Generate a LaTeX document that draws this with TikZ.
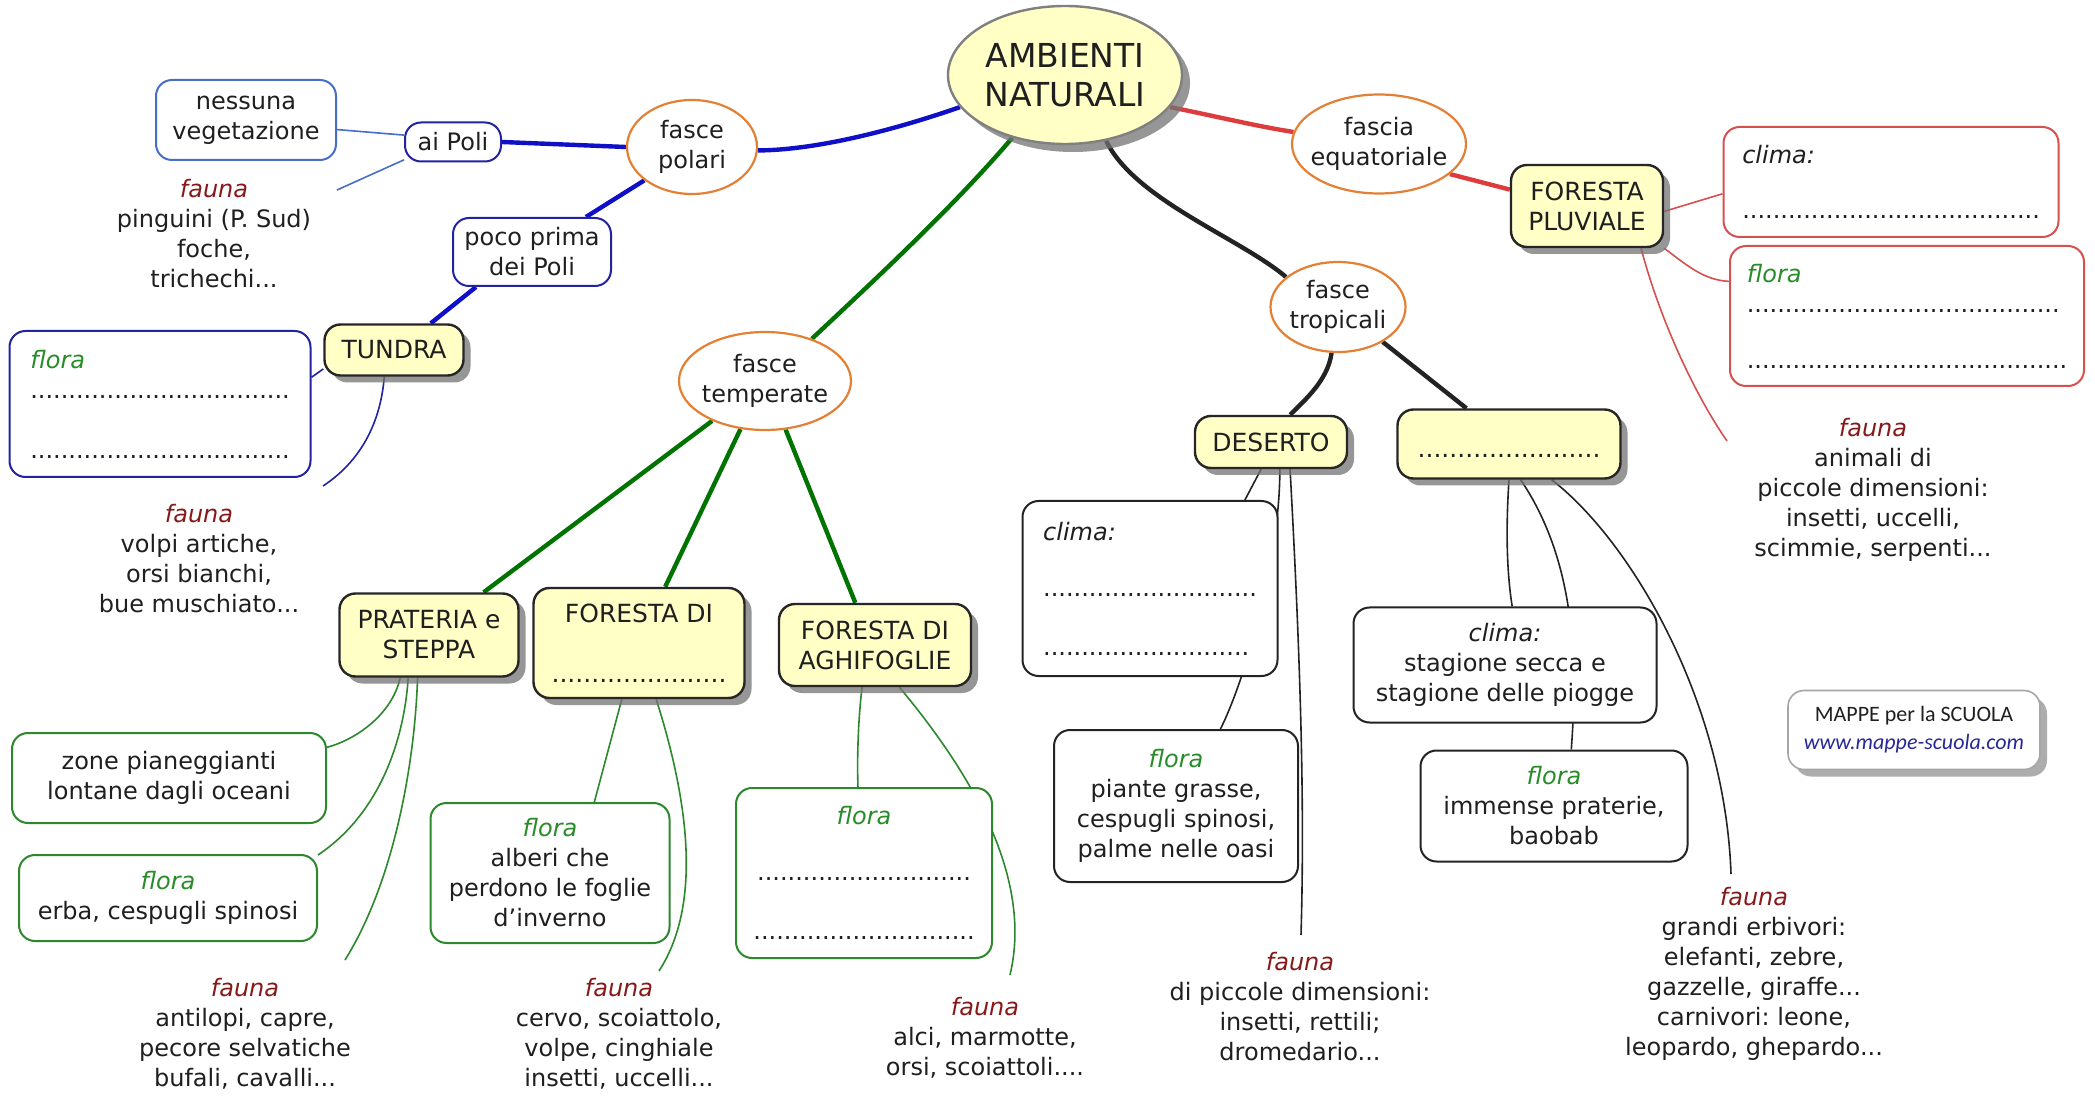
\documentclass[tikz,border=0pt]{standalone}
\usepackage{fontspec}
\setmainfont{DejaVu Sans}[Ligatures=ResetAll]
\newfontfamily\logofont{Carlito}
\usetikzlibrary{shapes.geometric,shadows,backgrounds}
\definecolor{yfill}{RGB}{255,255,198}
\definecolor{orng}{RGB}{228,128,52}
\definecolor{pblue}{RGB}{15,15,200}
\definecolor{bblue}{RGB}{35,35,160}
\definecolor{lblue}{RGB}{70,110,200}
\definecolor{tgreen}{RGB}{0,115,0}
\definecolor{lgreen}{RGB}{45,135,45}
\definecolor{fgreen}{RGB}{40,140,40}
\definecolor{tred}{RGB}{222,60,60}
\definecolor{lred}{RGB}{215,80,80}
\definecolor{fred}{RGB}{135,25,25}
\definecolor{dk}{RGB}{35,35,35}
\definecolor{urlblue}{RGB}{40,40,150}
\newcommand{\mfauna}{{\itshape\color{fred}fauna}}
\newcommand{\mflora}{{\itshape\color{fgreen}flora}}
\newcommand{\mclima}{{\itshape clima:}}
\ExplSyntaxOn
\cs_new:Npn \ptrow #1 {\prg_replicate:nn{#1}{.}}
\ExplSyntaxOff
\frenchspacing
\begin{document}
\begin{tikzpicture}[x=0.5pt,y=-0.5pt,
  font=\fontsize{12}{15}\selectfont,
  every node/.append style={text=black!88},
  ell/.style={ellipse, draw=orng, line width=1.1pt, fill=white, inner sep=0pt},
  ellt/.style={align=center, inner sep=0pt},
  ybox/.style={rectangle, rounded corners=8pt, draw=black!85, line width=1.2pt, fill=yfill,
     align=center, inner sep=3pt, font=\fontsize{12.5}{15}\selectfont,
     drop shadow={shadow xshift=3.5pt, shadow yshift=-3.5pt, fill=black!55, opacity=.75}},
  wbox/.style={rectangle, rounded corners=8pt, line width=1pt, fill=white, align=center, inner sep=3pt},
  ftxt/.style={align=center, inner sep=1pt},
  thk/.style={line width=2.2pt},
  thn/.style={line width=0.8pt}]

\useasboundingbox (0,0) rectangle (2095,1096);

% ---------- central node and zones ----------
\node[ellipse, draw=black!50, line width=1.2pt, fill=yfill, inner sep=0pt,
      minimum width=117pt, minimum height=69pt, align=center,
      font=\fontsize{16.5}{19.5}\selectfont,
      drop shadow={shadow xshift=4pt, shadow yshift=-4pt, fill=black!55, opacity=.75}]
      (main) at (1065,75) {AMBIENTI\\NATURALI};
\node[ell, minimum width=65pt, minimum height=47pt, label={[ellt]center:fasce\\polari}] (polari) at (692,147) {};
\node[ell, minimum width=87pt, minimum height=49.5pt, label={[ellt]center:fascia\\equatoriale}] (equat) at (1379,144) {};
\node[ell, minimum width=86pt, minimum height=49pt, label={[ellt]center:fasce\\temperate}] (temp) at (765,381) {};
\node[ell, minimum width=67.5pt, minimum height=45pt, label={[ellt]center:fasce\\tropicali}] (trop) at (1338,307) {};

% ---------- polar ----------
\node[wbox, draw=bblue, minimum width=48pt, minimum height=19.5pt] (aiPoli) at (453,142) {ai Poli};
\node[wbox, draw=lblue, minimum width=90pt, minimum height=40pt] (nessuna) at (246,120) {nessuna\\vegetazione};
\node[ftxt] (fPol) at (214,234) {\mfauna\\pinguini (P. Sud)\\foche,\\trichechi...};
\node[wbox, draw=bblue, minimum width=79pt, minimum height=34pt] (poco) at (532,252) {poco prima\\dei Poli};
\node[ybox, minimum width=69.5pt, minimum height=25.5pt] (tundra) at (394,350) {TUNDRA};
\node[wbox, draw=bblue, minimum width=150.5pt, minimum height=73pt, align=left] (tunFl) at (160,404) {\mflora\\\ptrow{34}\\[15pt]\ptrow{34}};
\node[ftxt] (fTun) at (199,559) {\mfauna\\volpi artiche,\\orsi bianchi,\\bue muschiato...};

% ---------- temperate ----------
\node[ybox, minimum width=89.5pt, minimum height=41.5pt] (prat) at (429,635) {PRATERIA e\\STEPPA};
\node[ybox, minimum width=105.5pt, minimum height=55pt] (forDi) at (639,643) {FORESTA DI\\[15pt]\ptrow{22}};
\node[ybox, minimum width=96pt, minimum height=41pt] (aghi) at (875,645) {FORESTA DI\\AGHIFOGLIE};
\node[wbox, draw=lgreen, minimum width=157pt, minimum height=45pt] (zone) at (169,778) {zone pianeggianti\\lontane dagli oceani};
\node[wbox, draw=lgreen, minimum width=149pt, minimum height=43pt] (flErba) at (168,898) {\mflora\\erba, cespugli spinosi};
\node[ftxt] (fPrat) at (245,1034) {\mfauna\\antilopi, capre,\\pecore selvatiche\\bufali, cavalli...};
\node[wbox, draw=lgreen, minimum width=119.5pt, minimum height=70pt] (flAlb) at (550,873) {\mflora\\alberi che\\perdono le foglie\\d'inverno};
\node[ftxt] (fFor) at (619,1034) {\mfauna\\cervo, scoiattolo,\\volpe, cinghiale\\insetti, uccelli...};
\node[wbox, draw=lgreen, minimum width=128pt, minimum height=85pt] (flAghi) at (864,873) {\mflora\\[13pt]\ptrow{28}\\[14.5pt]\ptrow{29}};
\node[ftxt] (fAghi) at (985,1038) {\mfauna\\alci, marmotte,\\orsi, scoiattoli....};

% ---------- tropical ----------
\node[ybox, minimum width=76pt, minimum height=26pt] (deserto) at (1271,442) {DESERTO};
\node[ybox, minimum width=111.5pt, minimum height=34.5pt] (savDots) at (1509,444) {\rule{0pt}{14pt}\ptrow{23}};
\node[wbox, draw=dk, minimum width=127.5pt, minimum height=87.5pt, align=left] (clDes) at (1150,588.5) {\mclima\\[13pt]\ptrow{28}\\[14.5pt]\ptrow{27}};
\node[wbox, draw=dk, minimum width=122pt, minimum height=76pt] (flDes) at (1176,806) {\mflora\\piante grasse,\\cespugli spinosi,\\palme nelle oasi};
\node[ftxt] (fDes) at (1300,1007) {\mfauna\\di piccole dimensioni:\\insetti, rettili;\\dromedario...};
\node[wbox, draw=dk, minimum width=151.5pt, minimum height=57.5pt] (clSav) at (1505,665) {\mclima\\stagione secca e\\stagione delle piogge};
\node[wbox, draw=dk, minimum width=133.5pt, minimum height=55.5pt] (flSav) at (1554,806) {\mflora\\immense praterie,\\baobab};
\node[ftxt] (fSav) at (1754,974) {\mfauna\\grandi erbivori:\\elefanti, zebre,\\gazzelle, giraffe...\\carnivori: leone,\\leopardo, ghepardo...};

% ---------- equatorial ----------
\node[ybox, minimum width=76pt, minimum height=41pt] (pluv) at (1587,206) {FORESTA\\PLUVIALE};
\node[wbox, draw=lred, minimum width=167.5pt, minimum height=55pt, align=left] (clEq) at (1891,182) {\mclima\\[12.5pt]\ptrow{39}};
\node[wbox, draw=lred, minimum width=177pt, minimum height=70pt, align=left] (flEq) at (1907,316) {\mflora\\\ptrow{41}\\[13pt]\ptrow{42}};
\node[ftxt] (fEq) at (1873,490) {\mfauna\\animali di\\piccole dimensioni:\\insetti, uccelli,\\scimmie, serpenti...};

% ---------- logo ----------
\node[rectangle, rounded corners=8pt, draw=black!35, line width=0.8pt, fill=white,
      minimum width=126pt, minimum height=39.5pt, align=center,
      font=\logofont\fontsize{11}{14}\selectfont,
      drop shadow={shadow xshift=3.5pt, shadow yshift=-3.5pt, fill=black!40, opacity=.8}]
      (logo) at (1914,730) {MAPPE per la SCUOLA\\{\color{urlblue}\itshape www.mappe-scuola.com}};

% free ends of connectors that reach plain text
\coordinate (ePolF) at (337,190);
\coordinate (eTunF) at (323,486);
\coordinate (ePratF) at (345,960);
\coordinate (eForF) at (659,971);
\coordinate (eAghiF) at (1010,975);
\coordinate (eDesF) at (1301,935);
\coordinate (eSavF) at (1731,874);
\coordinate (eEqF) at (1727,441);

\begin{pgfonlayer}{background}
\fill[white] (0,0) rectangle (2095,1096);
% thick
\draw[thk, pblue] (main.197) .. controls (900,128) and (820,150) .. (polari.357);
\draw[thk, tred] (main.343) .. controls (1215,116) and (1255,126) .. (equat.172);
\draw[thk, tgreen] (main.230) .. controls (955,205) and (880,275) .. (temp.42);
\draw[thk, dk] (main.302) .. controls (1135,200) and (1240,238) .. (trop.150);
\draw[thk, pblue] (polari.180) -- (aiPoli.east);
\draw[thk, pblue] (polari.215) -- (poco.33);
\draw[thk, pblue] (poco.212) -- (tundra.36);
\draw[thk, tred] (equat.337) -- (pluv.168);
\draw[thk, tgreen] (temp.217) -- (prat.38);
\draw[thk, tgreen] (temp.243) -- (forDi.65);
\draw[thk, tgreen] (temp.293) -- (aghi.115);
\draw[thk, dk] (trop.262) .. controls (1328,380) and (1305,400) .. (deserto.55);
\draw[thk, dk] (trop.322) -- (savDots.140);
% thin blue
\draw[thn, lblue] (aiPoli.172) -- (nessuna.354);
\draw[thn, lblue] (aiPoli.200) -- (ePolF);
\draw[thn, bblue] (tundra.195) -- (tunFl.10);
\draw[thn, bblue] (tundra.250) .. controls (380,430) and (355,465) .. (eTunF);
% thin green
\draw[thn, lgreen] (prat.236) .. controls (392,715) and (355,740) .. (zone.11);
\draw[thn, lgreen] (prat.244) .. controls (405,730) and (385,810) .. (flErba.16);
\draw[thn, lgreen] (prat.255) .. controls (415,760) and (395,880) .. (ePratF);
\draw[thn, lgreen] (forDi.253) -- (flAlb.58);
\draw[thn, lgreen] (forDi.287) .. controls (685,790) and (705,900) .. (eForF);
\draw[thn, lgreen] (aghi.253) .. controls (858,720) and (857,760) .. (flAghi.94);
\draw[thn, lgreen] (aghi.300) .. controls (960,760) and (1035,870) .. (eAghiF);
% thin black
\draw[thn, dk] (deserto.250) -- (clDes.43);
\draw[thn, dk] (deserto.288) .. controls (1280,560) and (1245,680) .. (flDes.60);
\draw[thn, dk] (deserto.305) .. controls (1300,650) and (1305,800) .. (eDesF);
\draw[thn, dk] (savDots.270) .. controls (1505,540) and (1508,580) .. (clSav.83);
\draw[thn, dk] (savDots.288) .. controls (1575,560) and (1578,660) .. (flSav.73);
\draw[thn, dk] (savDots.320) .. controls (1630,540) and (1725,700) .. (eSavF);
% thin red
\draw[thn, lred] (pluv.356) -- (clEq.184);
\draw[thn, lred] (pluv.south east) .. controls (1690,268) and (1705,280) .. (flEq.169);
\draw[thn, lred] (pluv.322) .. controls (1660,320) and (1695,395) .. (eEqF);
\end{pgfonlayer}
\end{tikzpicture}
\end{document}
